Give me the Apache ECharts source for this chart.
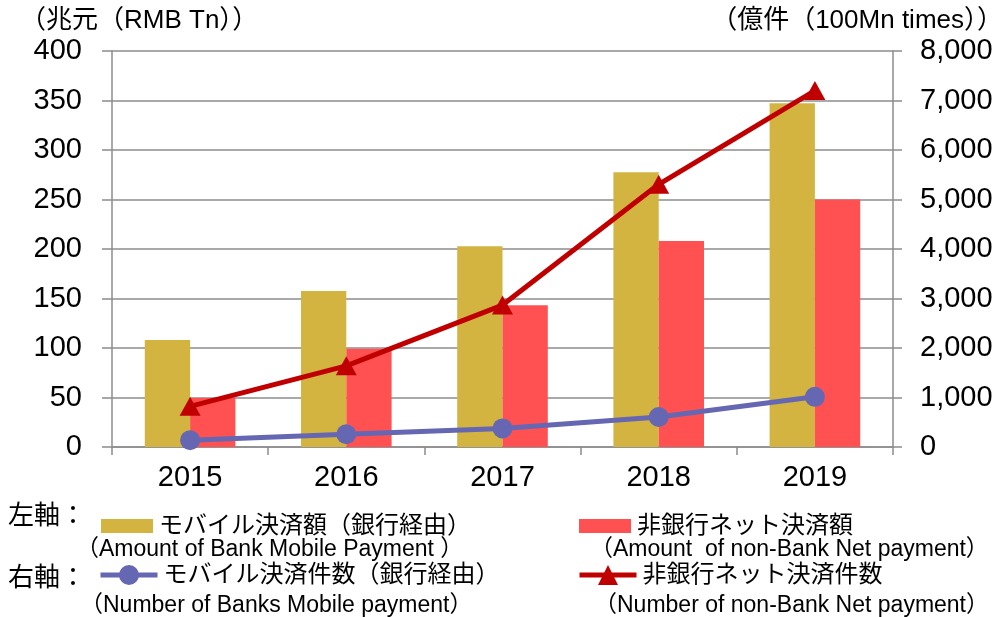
<!DOCTYPE html>
<html>
<head>
<meta charset="utf-8">
<script src="https://cdn.jsdelivr.net/npm/echarts@6/dist/echarts.min.js"></script>
<style>html,body{margin:0;padding:0;background:#fff}#c{width:1003px;height:617px}</style>
</head>
<body>
<div id="c"></div>
<script>
const years = ['2015', '2016', '2017', '2018', '2019'];
const bankMobileAmount = [108.2, 157.6, 202.9, 277.4, 347.1];
const nonBankNetAmount = [49.5, 99.3, 143.3, 208.1, 249.9];
const bankMobileCount = [138, 257, 376, 605, 1014];
const nonBankNetCount = [821, 1639, 2867, 5306, 7200];
const leftTitle = '（兆元（RMB Tn））';
const rightTitle = '（億件（100Mn times））';
const nameBankMobileAmount = 'モバイル決済額（銀行経由）';
const nameNonBankNetAmount = '非銀行ネット決済額';
const nameBankMobileCount = 'モバイル決済件数（銀行経由）';
const nameNonBankNetCount = '非銀行ネット決済件数';
const subBankMobileAmount = '（Amount of Bank Mobile Payment ）';
const subNonBankNetAmount = '（Amount  of non-Bank Net payment）';
const subBankMobileCount = '（Number of Banks Mobile payment）';
const subNonBankNetCount = '（Number of non-Bank Net payment）';

const FONT = '"Liberation Sans", Arial, "Noto Sans CJK JP", sans-serif';
const GRAY = '#8c8c8c';
const chart = echarts.init(document.getElementById('c'), null, {renderer: 'canvas'});

function legendAt(name, left, top, w, h, icon) {
  const o = {
    data: [name], left: left, top: top, padding: 0, itemWidth: w, itemHeight: h,
    itemGap: 0, selectedMode: false,
    lineStyle: {width: 5},
    textStyle: {fontSize: 24, fontFamily: FONT, color: '#000', padding: [0,0,0,1]}
  };
  if (icon) o.icon = icon;
  return o;
}
function txt(x, y, s, size, align) {
  return {type: 'text', x: x, y: y, silent: true,
    style: {text: s, fontSize: size, fontFamily: FONT, fill: '#000', align: align || 'left', verticalAlign: 'middle'}};
}

chart.setOption({
  animation: false,
  backgroundColor: '#fff',
  grid: {left: 112, right: 110, top: 51, bottom: 170, containLabel: false},
  xAxis: {
    type: 'category', data: years, boundaryGap: true,
    axisLine: {lineStyle: {color: GRAY, width: 1.5}},
    axisTick: {show: true, length: 8, lineStyle: {color: GRAY, width: 1.5}},
    axisLabel: {fontSize: 29, fontFamily: FONT, color: '#000', margin: 16}
  },
  yAxis: [
    {type: 'value', min: 0, max: 400, interval: 50, position: 'left',
     axisLine: {show: true, lineStyle: {color: GRAY, width: 1.5}},
     axisTick: {show: true, length: 10, lineStyle: {color: GRAY, width: 1.5}},
     splitLine: {lineStyle: {color: GRAY, width: 1.5}},
     axisLabel: {fontSize: 29, fontFamily: FONT, color: '#000', margin: 30}},
    {type: 'value', min: 0, max: 8000, interval: 1000, position: 'right',
     axisLine: {show: true, lineStyle: {color: GRAY, width: 1.5}},
     axisTick: {show: true, length: 9, lineStyle: {color: GRAY, width: 1.5}},
     splitLine: {show: false},
     axisLabel: {fontSize: 29, fontFamily: FONT, color: '#000', margin: 27}}
  ],
  legend: [
    legendAt(nameBankMobileAmount, 101, 514, 52, 14, 'rect'),
    legendAt(nameNonBankNetAmount, 579, 514, 52, 14, 'rect'),
    legendAt(nameBankMobileCount, 98, 563, 57, 25),
    legendAt(nameNonBankNetCount, 577, 563, 57, 25)
  ],
  graphic: [
    txt(20, 21, leftTitle, 26),
    txt(1003, 21, rightTitle, 26, 'right'),
    txt(8, 517, '左軸：', 26),
    txt(8, 579, '右軸：', 26),
    txt(76, 550, subBankMobileAmount, 23),
    txt(590, 550, subNonBankNetAmount, 23),
    txt(80, 606, subBankMobileCount, 23),
    txt(594, 606, subNonBankNetCount, 23)
  ],
  series: [
    {name: nameBankMobileAmount, type: 'bar', yAxisIndex: 0, data: bankMobileAmount,
     barGap: '0%', barCategoryGap: '42%', itemStyle: {color: '#D3B441'}, z: 2},
    {name: nameNonBankNetAmount, type: 'bar', yAxisIndex: 0, data: nonBankNetAmount,
     barGap: '0%', barCategoryGap: '42%', itemStyle: {color: '#FF5151'}, z: 2},
    {name: nameBankMobileCount, type: 'line', yAxisIndex: 1, data: bankMobileCount,
     symbol: 'circle', symbolSize: 20, lineStyle: {color: '#6667B3', width: 5},
     itemStyle: {color: '#6667B3'}, z: 3},
    {name: nameNonBankNetCount, type: 'line', yAxisIndex: 1, data: nonBankNetCount,
     symbol: 'triangle', symbolSize: [21, 19], lineStyle: {color: '#C00000', width: 5},
     itemStyle: {color: '#C00000'}, z: 4}
  ]
});
</script>
</body>
</html>
